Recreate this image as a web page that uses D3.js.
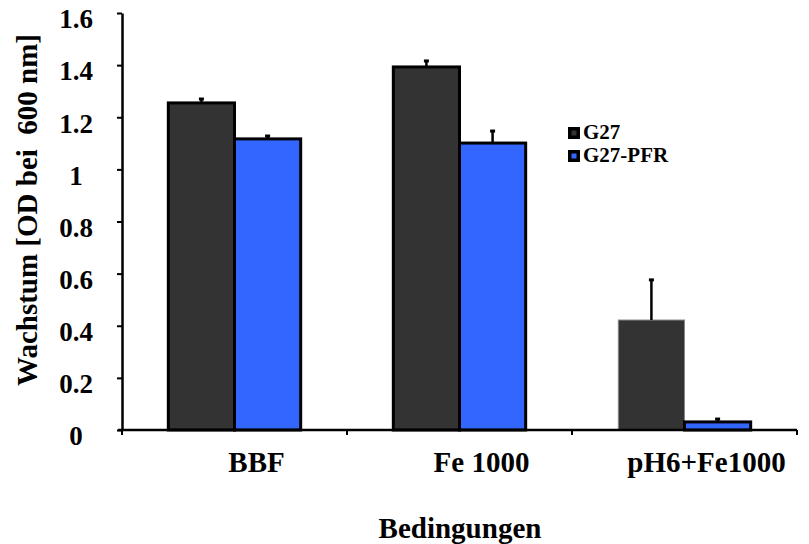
<!DOCTYPE html>
<html>
<head>
<meta charset="utf-8">
<script src="https://cdn.jsdelivr.net/npm/d3@7"></script>
<style>
  body { margin: 0; background: #fff; }
</style>
</head>
<body>
<svg id="chart"></svg>
<script>
// Daten
const categories = ["BBF", "Fe 1000", "pH6+Fe1000"];
const seriesNames = ["G27", "G27-PFR"];
const g27Values = [1.255, 1.393, 0.422];
const g27Errors = [0.015, 0.023, 0.154];
const pfrValues = [1.117, 1.101, 0.031];
const pfrErrors = [0.011, 0.046, 0.011];
const yTicks = [0, 0.2, 0.4, 0.6, 0.8, 1, 1.2, 1.4, 1.6];

const colors = { "G27": "#333333", "G27-PFR": "#3366ff" };
const serif = "'Liberation Serif', 'Times New Roman', 'DejaVu Serif', serif";

// Tabelle fuer die Balken
const rows = [];
categories.forEach((c, i) => {
    rows.push({ category: c, series: "G27", value: g27Values[i], err: g27Errors[i] });
    rows.push({ category: c, series: "G27-PFR", value: pfrValues[i], err: pfrErrors[i] });
});

const W = 809, H = 544;
const margin = { top: 13, right: 12, bottom: 114, left: 122 };
const width = W - margin.left - margin.right;
const height = H - margin.top - margin.bottom;

const svg = d3.select("#chart").attr("width", W).attr("height", H);
const g = svg.append("g").attr("transform", `translate(${margin.left},${margin.top})`);

const x0 = d3.scaleBand().domain(categories).range([0, width]).padding(0);
const x1 = d3.scaleBand().domain(seriesNames).range([0, x0.bandwidth()])
    .paddingInner(0).paddingOuter(0.7);
const y = d3.scaleLinear().domain([0, 1.6]).range([height, 0]);

// Balken
g.selectAll("rect.bar")
    .data(rows)
    .enter().append("rect")
    .attr("class", "bar")
    .attr("x", d => x0(d.category) + x1(d.series))
    .attr("y", d => y(d.value))
    .attr("width", x1.bandwidth())
    .attr("height", d => y(0) - y(d.value))
    .attr("fill", d => colors[d.series])
    // der G27-Balken bei pH6 hat im Original keinen dicken Rand
    .attr("stroke", d => (d.category === "pH6+Fe1000" && d.series === "G27") ? "#888" : "#000")
    .attr("stroke-width", d => (d.category === "pH6+Fe1000" && d.series === "G27") ? 1 : 3);

// Fehlerbalken (nur nach oben)
const eb = g.selectAll("g.err").data(rows).enter().append("g").attr("class", "err");
eb.append("line")
    .attr("x1", d => x0(d.category) + x1(d.series) + x1.bandwidth() / 2)
    .attr("x2", d => x0(d.category) + x1(d.series) + x1.bandwidth() / 2)
    .attr("y1", d => y(d.value))
    .attr("y2", d => y(d.value + d.err))
    .attr("stroke", "#000")
    .attr("stroke-width", 2.5);
eb.append("rect")
    .attr("x", d => x0(d.category) + x1(d.series) + x1.bandwidth() / 2 - 2.5)
    .attr("y", d => y(d.value + d.err) - 1.5)
    .attr("width", 5)
    .attr("height", 3)
    .attr("fill", "#000");

// Y-Achse
const yAxis = g.append("g")
    .call(d3.axisLeft(y).tickValues(yTicks).tickSize(5).tickSizeOuter(0).tickFormat(d3.format("")));
yAxis.select(".domain").attr("stroke-width", 2.5);
yAxis.selectAll(".tick line").attr("stroke-width", 2);
yAxis.selectAll(".tick text")
    .attr("x", -46)
    .attr("dy", "0.55em")
    .attr("text-anchor", "middle")
    .style("font-family", serif)
    .style("font-weight", "bold")
    .style("font-size", "27px");

// X-Achse
const xAxis = g.append("g")
    .attr("transform", `translate(0,${height})`)
    .call(d3.axisBottom(x0).tickSize(0).tickSizeOuter(0).tickPadding(21));
xAxis.select(".domain").attr("stroke-width", 2.5).attr("d", `M-4,0H${width}`);
xAxis.selectAll(".tick text")
    .attr("dx", 22)
    .style("font-family", serif)
    .style("font-weight", "bold")
    .style("font-size", "29px");

// Teilstriche zwischen den Kategorien
const bounds = categories.map(c => x0(c)).concat([x0.range()[1]]);
g.selectAll("line.xtick")
    .data(bounds)
    .enter().append("line")
    .attr("x1", d => d).attr("x2", d => d)
    .attr("y1", height).attr("y2", height + 5)
    .attr("stroke", "#000")
    .attr("stroke-width", 2);

// Achsentitel
svg.append("text")
    .attr("transform", "translate(37,210) rotate(-90)")
    .attr("text-anchor", "middle")
    .attr("xml:space", "preserve")
    .style("font-family", serif)
    .style("font-weight", "bold")
    .style("font-size", "29px")
    .style("white-space", "pre")
    .text("Wachstum [OD bei  600 nm]");

svg.append("text")
    .attr("x", 460)
    .attr("y", 538)
    .attr("text-anchor", "middle")
    .style("font-family", serif)
    .style("font-weight", "bold")
    .style("font-size", "29px")
    .text("Bedingungen");

// Legende
const legend = svg.append("g").attr("transform", "translate(568,127)");
const li = legend.selectAll("g").data(seriesNames).enter().append("g")
    .attr("transform", (d, i) => `translate(0,${i * 23})`);
li.append("rect")
    .attr("x", 1.75).attr("y", 1.75)
    .attr("width", 8.5).attr("height", 8.5)
    .attr("fill", d => colors[d])
    .attr("stroke", "#000")
    .attr("stroke-width", 3.5);
li.append("text")
    .attr("x", 15)
    .attr("y", 12)
    .style("font-family", serif)
    .style("font-weight", "bold")
    .style("font-size", "21px")
    .text(d => d);
</script>
</body>
</html>
